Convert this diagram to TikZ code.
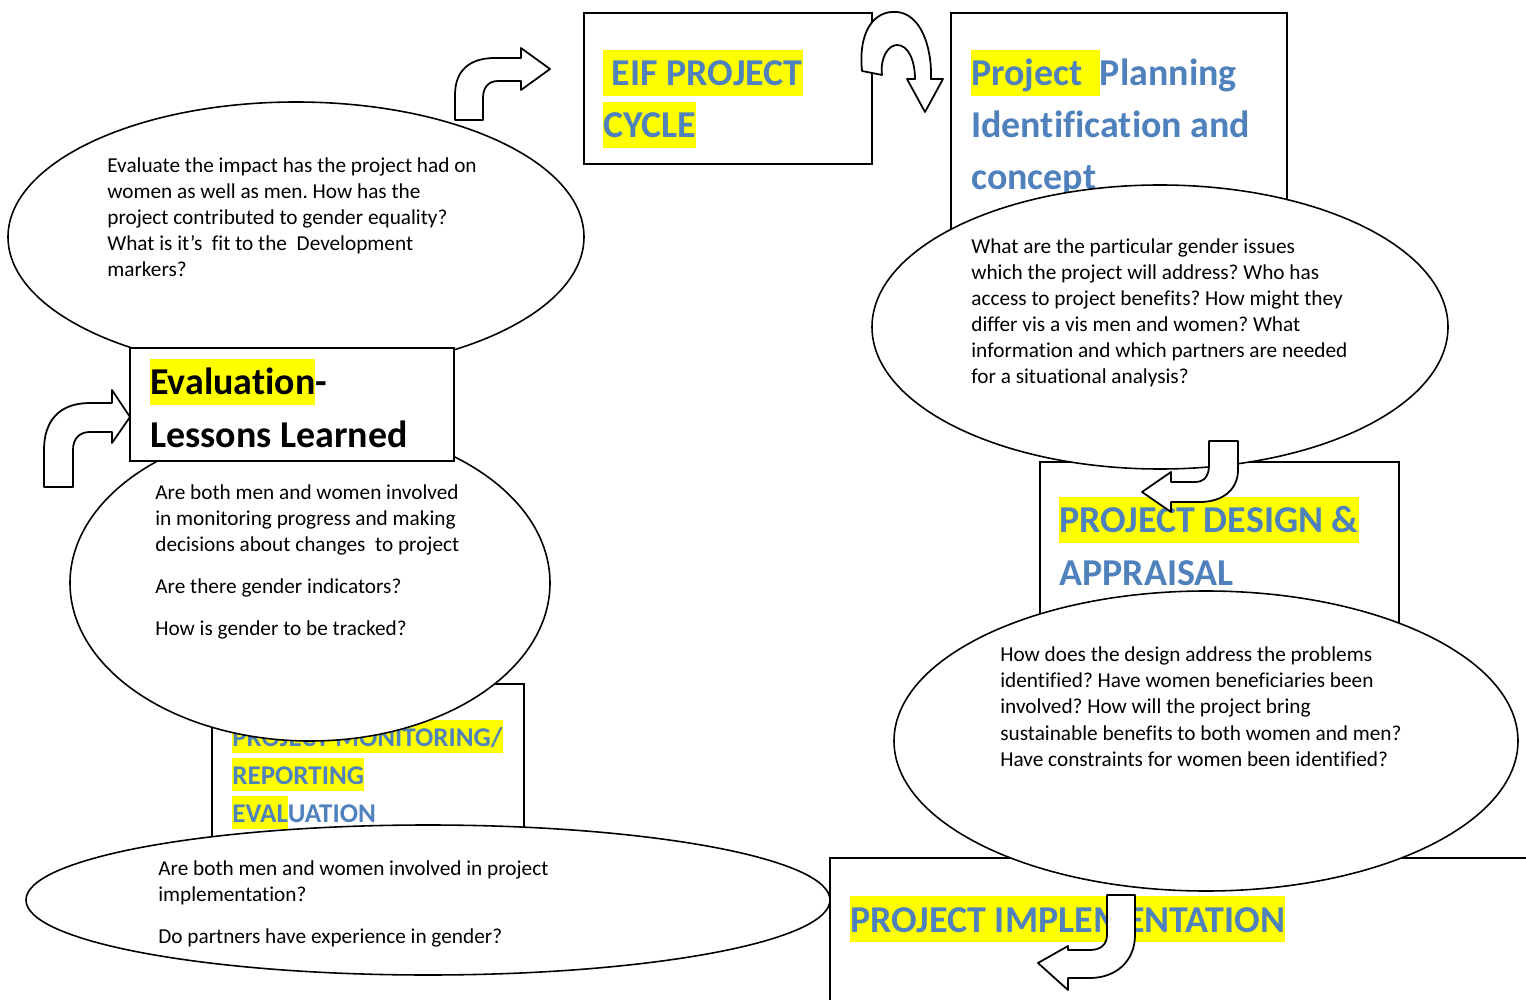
\documentclass[tikz,border=0pt]{standalone}
\usepackage{fontspec}
\setmainfont[Ligatures=NoCommon]{Carlito}
\usepackage{xcolor}
\usepackage{tikz}
\usetikzlibrary{positioning}
\frenchspacing

\definecolor{hdblue}{HTML}{4F81BD}
\definecolor{hlyellow}{HTML}{FFFF00}
\newcommand{\hl}[1]{{\setlength{\fboxsep}{0pt}\colorbox{hlyellow}{\rule[-0.27em]{0pt}{1.22em}#1}}}

\tikzset{
  box/.style={draw, fill=white, line width=1.2pt},
  bubble/.style={draw, fill=white, line width=0.9pt},
  blockarrow/.style={draw, fill=white, line width=1pt, line join=round},
  head/.style={anchor=base west, inner sep=0pt, align=left, text=hdblue,
    font=\fontsize{21.6}{29.6}\selectfont\bfseries},
  smallhead/.style={head, font=\fontsize{15.4}{21.6}\selectfont\bfseries},
  body/.style={anchor=base west, inner sep=0pt, align=left,
    font=\fontsize{12.1}{14.8}\selectfont},
}

\begin{document}
\begin{tikzpicture}[x=0.02cm,y=-0.02cm]
        \useasboundingbox (0,0) rectangle (1526,1000);

        % cycle title
        \draw[box] (584,13) rectangle (872,164);
        \node[head] (eifhead) at (603,138) {\hl{\ EIF PROJECT}\\\hl{CYCLE}};

        \draw[blockarrow] (455,120) -- (455,95) .. controls (455,70) and (470,58) .. (495,58)
            -- (521,58) -- (521,48) -- (550,69) -- (521,90) -- (521,81) -- (498,81)
            .. controls (488,81) and (483,88) .. (483,98) -- (483,120) -- cycle;

        \draw[bubble] (296,237) ellipse [x radius=288, y radius=135];
        \node[body] (evalq) at (107,277) {Evaluate the impact has the project had on\\
            women as well as men. How has the\\
            project contributed to gender equality?\\
            What is it’s\ \ fit to the\ \ Development\\
            markers?};

        % planning
        \draw[box] (951,13) rectangle (1287,260);
        \node[head] (planhead) at (971,190) {\hl{Project\ \ }Planning\\Identification and\\concept};

        \draw[blockarrow] (862,71) .. controls (858,30) and (875,10) .. (897,12)
            .. controls (920,14) and (932,45) .. (931,79) -- (943,79) -- (925,112) -- (907,79)
            -- (915,79) .. controls (915,60) and (908,45) .. (897,45)
            .. controls (888,45) and (880,58) .. (882,75) -- cycle;

        % design
        \draw[box] (1040,462) rectangle (1399,660);
        \node[head] (designhead) at (1059,585) {\hl{PROJECT DESIGN \&}\\APPRAISAL};

        \draw[bubble] (1160,327) ellipse [x radius=288, y radius=142];
        \node[body] (planq) at (971,384) {What are the particular gender issues\\
            which the project will address? Who has\\
            access to project benefits? How might they\\
            differ vis a vis men and women? What\\
            information and which partners are needed\\
            for a situational analysis?};

        \draw[blockarrow] (1209,441) -- (1238,441) -- (1238,470) .. controls (1238,490) and (1222,502) .. (1200,502)
            -- (1171,502) -- (1171,512) -- (1142,492) -- (1171,472) -- (1171,482) -- (1195,482)
            .. controls (1205,482) and (1209,475) .. (1209,465) -- cycle;

        % implementation
        \draw[box] (830,858) rectangle (1540,1010);
        \node[head] (implhead) at (850,932) {\hl{PROJECT IMPLEMENTATION}};

        \draw[bubble] (1206,741) ellipse [x radius=312, y radius=150];
        \node[body] (designq) at (1000,766) {How does the design address the problems\\
            identified? Have women beneficiaries been\\
            involved? How will the project bring\\
            sustainable benefits to both women and men?\\
            Have constraints for women been identified?};

        \draw[blockarrow] (1107,895) -- (1135,895) -- (1135,935) .. controls (1135,962) and (1115,978) .. (1090,978)
            -- (1068,978) -- (1068,990) -- (1038,963) -- (1068,946) -- (1068,950) -- (1090,950)
            .. controls (1100,950) and (1107,945) .. (1107,935) -- cycle;

        % monitoring
        \draw[box] (212,684) rectangle (524,870);
        \node[smallhead] (monhead) at (232,822) {\hl{PROJECT MONITORING/}\\\hl{REPORTING}\\\hl{EVAL}UATION};

        \draw[bubble] (310,583) ellipse [x radius=240, y radius=158];
        \node[body] (monq) at (155,635) {Are both men and women involved\\
            in monitoring progress and making\\
            decisions about changes\ \ to project\\[9pt]
            Are there gender indicators?\\[9pt]
            How is gender to be tracked?};

        \draw[bubble] (428,900) ellipse [x radius=402, y radius=75];
        \node[body] (implq) at (158,943) {Are both men and women involved in project\\
            implementation?\\[9pt]
            Do partners have experience in gender?};

        % evaluation
        \draw[box] (130,348) rectangle (454,461);
        \node[head, text=black] (evalhead) at (150,447) {\hl{Evaluation}-\\Lessons Learned};

        \draw[blockarrow] (44,487) -- (44,450) .. controls (44,420) and (60,403) .. (90,403)
            -- (112,403) -- (112,390) -- (130,417) -- (112,443) -- (112,432) -- (90,432)
            .. controls (80,432) and (73,438) .. (73,450) -- (73,487) -- cycle;

      \end{tikzpicture}
\end{document}
